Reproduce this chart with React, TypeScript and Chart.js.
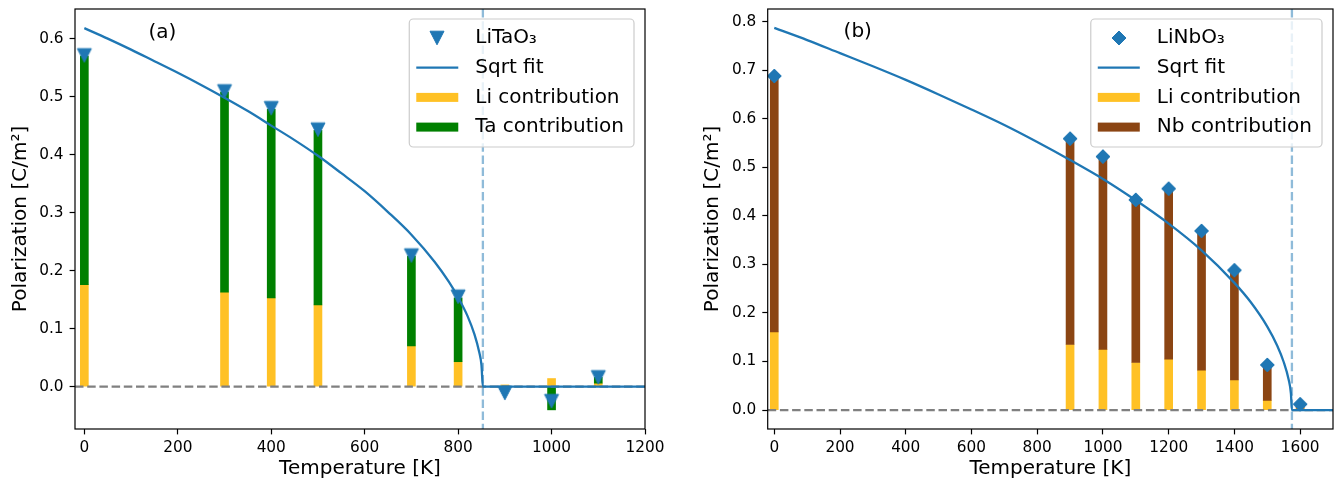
import React, { useEffect, useRef } from 'react';
import { Chart, registerables } from 'chart.js';

Chart.register(...registerables);

const FONT = 'DejaVu Sans';
const BLUE = '#1f77b4';
const LI_COLOR = '#ffc125';
const TA_COLOR = '#008000';
const NB_COLOR = '#8b4513';

// ---------- panel (a): LiTaO3 ----------
const tempsA = [0, 300, 400, 500, 700, 800, 900, 1000, 1100];
const totalA = [0.571, 0.509, 0.48, 0.443, 0.226, 0.155, -0.011, -0.025, 0.016];
const liA = [0.176, 0.163, 0.153, 0.141, 0.07, 0.043, 0.003, 0.014, 0.006];
const taA = [0.394, 0.345, 0.325, 0.301, 0.155, 0.11, -0.004, -0.04, 0.01];
const fitTempA = [0, 50, 100, 150, 200, 250, 300, 350, 400, 450, 500, 550, 600, 650, 700, 750, 780, 800, 820, 835, 845, 850, 853, 1200];
const fitPolA = [0.618, 0.6, 0.581, 0.561, 0.541, 0.52, 0.498, 0.475, 0.45, 0.425, 0.398, 0.368, 0.337, 0.301, 0.262, 0.215, 0.181, 0.154, 0.122, 0.09, 0.06, 0.037, 0, 0];
const tcA = 853;
const xTicksA = [0, 200, 400, 600, 800, 1000, 1200];
const yTicksA = [0, 0.1, 0.2, 0.3, 0.4, 0.5, 0.6];

// ---------- panel (b): LiNbO3 ----------
const tempsB = [0, 900, 1000, 1100, 1200, 1300, 1400, 1500, 1600];
const totalB = [0.688, 0.559, 0.522, 0.433, 0.456, 0.369, 0.288, 0.093, 0.012];
const liB = [0.161, 0.135, 0.125, 0.098, 0.105, 0.082, 0.062, 0.02, 0.004];
const nbB = [0.523, 0.42, 0.393, 0.332, 0.347, 0.284, 0.223, 0.07, 0.005];
const fitTempB = [0, 100, 200, 300, 400, 500, 600, 700, 800, 900, 1000, 1100, 1200, 1300, 1400, 1450, 1500, 1530, 1550, 1565, 1572, 1575, 1700];
const fitPolB = [0.787, 0.762, 0.735, 0.708, 0.68, 0.65, 0.619, 0.587, 0.552, 0.515, 0.476, 0.432, 0.384, 0.329, 0.262, 0.222, 0.172, 0.133, 0.099, 0.063, 0.034, 0, 0];
const tcB = 1575;
const xTicksB = [0, 200, 400, 600, 800, 1000, 1200, 1400, 1600];
const yTicksB = [0, 0.1, 0.2, 0.3, 0.4, 0.5, 0.6, 0.7, 0.8];

type Panel = {
  temps: number[];
  total: number[];
  li: number[];
  other: number[];
  fitT: number[];
  fitP: number[];
  tc: number;
  xRange: [number, number];
  yRange: [number, number];
  xTicks: number[];
  yTicks: number[];
  marker: 'tri' | 'diamond';
  seriesLabel: string;
  otherLabel: string;
  otherColor: string;
  panelLabel: string;
  panelLabelAt: [number, number];
  canvasW: number;
  yAxisW: number;
  rightPad: number;
  yTitlePad: number;
};

const panelA: Panel = {
  temps: tempsA, total: totalA, li: liA, other: taA,
  fitT: fitTempA, fitP: fitPolA, tc: tcA,
  xRange: [-20, 1200], yRange: [-0.073, 0.651],
  xTicks: xTicksA, yTicks: yTicksA, marker: 'tri',
  seriesLabel: 'LiTaO\u2083', otherLabel: 'Ta contribution', otherColor: TA_COLOR,
  panelLabel: '(a)', panelLabelAt: [167, 0.61],
  canvasW: 670, yAxisW: 75, rightPad: 25, yTitlePad: 9,
};

const panelB: Panel = {
  temps: tempsB, total: totalB, li: liB, other: nbB,
  fitT: fitTempB, fitP: fitPolB, tc: tcB,
  xRange: [-20, 1700], yRange: [-0.039, 0.826],
  xTicks: xTicksB, yTicks: yTicksB, marker: 'diamond',
  seriesLabel: 'LiNbO\u2083', otherLabel: 'Nb contribution', otherColor: NB_COLOR,
  panelLabel: '(b)', panelLabelAt: [254, 0.78],
  canvasW: 672, yAxisW: 97.7, rightPad: 5.3, yTitlePad: 30.5,
};

const H = 489;

function makeMarker(kind: 'tri' | 'diamond'): HTMLCanvasElement {
  const c = document.createElement('canvas');
  c.width = 18;
  c.height = 18;
  const g = c.getContext('2d')!;
  g.fillStyle = BLUE;
  g.strokeStyle = BLUE;
  g.lineWidth = 1;
  g.beginPath();
  if (kind === 'tri') {
    g.moveTo(2, 2.2);
    g.lineTo(16, 2.2);
    g.lineTo(9, 15.8);
  } else {
    g.moveTo(9, 2);
    g.lineTo(16, 9);
    g.lineTo(9, 16);
    g.lineTo(2, 9);
  }
  g.closePath();
  g.fill();
  g.stroke();
  return c;
}

type LegendItem = { label: string; kind: 'marker' | 'line' | 'bar'; color: string };

function buildChart(canvas: HTMLCanvasElement, p: Panel) {
  const markerImg = makeMarker(p.marker);
  const legendItems: LegendItem[] = [
    { label: p.seriesLabel, kind: 'marker', color: BLUE },
    { label: 'Sqrt fit', kind: 'line', color: BLUE },
    { label: 'Li contribution', kind: 'bar', color: LI_COLOR },
    { label: p.otherLabel, kind: 'bar', color: p.otherColor },
  ];

  const liBars = p.temps.map((t, i) => ({ x: t, y: [0, p.li[i]] }));
  const otherBars = p.temps.map((t, i) => ({
    x: t,
    y: p.other[i] >= 0 ? [p.li[i], p.li[i] + p.other[i]] : [0, p.other[i]],
  }));
  const points = p.temps.map((t, i) => ({ x: t, y: p.total[i] }));
  const fit = p.fitT.map((t, i) => ({ x: t, y: p.fitP[i] }));
  const zero = p.xRange.map((x) => ({ x, y: 0 }));

  const decoPlugin = {
    id: 'deco',
    beforeDatasetsDraw(chart: any) {
      const { ctx, chartArea } = chart;
      const x = chart.scales.x.getPixelForValue(p.tc);
      ctx.save();
      ctx.strokeStyle = 'rgba(31,119,180,0.5)';
      ctx.lineWidth = 2.3;
      ctx.setLineDash([8.5, 3.7]);
      ctx.beginPath();
      ctx.moveTo(x, chartArea.top);
      ctx.lineTo(x, chartArea.bottom);
      ctx.stroke();
      ctx.restore();
    },
    afterDatasetsDraw(chart: any) {
      const { ctx, chartArea } = chart;
      ctx.save();
      ctx.strokeStyle = '#000';
      ctx.lineWidth = 1.2;
      ctx.strokeRect(chartArea.left, chartArea.top, chartArea.right - chartArea.left, chartArea.bottom - chartArea.top);
      ctx.fillStyle = '#000';
      ctx.font = `20px "${FONT}"`;
      ctx.textAlign = 'center';
      ctx.textBaseline = 'middle';
      ctx.fillText(
        p.panelLabel,
        chart.scales.x.getPixelForValue(p.panelLabelAt[0]),
        chart.scales.y.getPixelForValue(p.panelLabelAt[1])
      );
      ctx.restore();
    },
    afterDraw(chart: any) {
      const { ctx, chartArea } = chart;
      ctx.save();
      ctx.font = `20px "${FONT}"`;
      const maxW = Math.max(...legendItems.map((it) => ctx.measureText(it.label).width));
      const w = 66 + maxW + 10;
      const h = 128;
      const right = chartArea.right - 11;
      const left = right - w;
      const top = chartArea.top + 10;
      const r = 4;
      ctx.beginPath();
      ctx.moveTo(left + r, top);
      ctx.lineTo(left + w - r, top);
      ctx.arcTo(left + w, top, left + w, top + r, r);
      ctx.lineTo(left + w, top + h - r);
      ctx.arcTo(left + w, top + h, left + w - r, top + h, r);
      ctx.lineTo(left + r, top + h);
      ctx.arcTo(left, top + h, left, top + h - r, r);
      ctx.lineTo(left, top + r);
      ctx.arcTo(left, top, left + r, top, r);
      ctx.closePath();
      ctx.fillStyle = 'rgba(255,255,255,0.8)';
      ctx.fill();
      ctx.strokeStyle = '#cccccc';
      ctx.lineWidth = 1.2;
      ctx.stroke();
      legendItems.forEach((it, i) => {
        const y = top + 19 + i * 29.7;
        const hx0 = left + 7;
        const hx1 = left + 49;
        if (it.kind === 'marker') {
          ctx.drawImage(markerImg, Math.round(left + 28 - 9), Math.round(y - 9));
        } else if (it.kind === 'line') {
          ctx.strokeStyle = it.color;
          ctx.lineWidth = 2.3;
          ctx.beginPath();
          ctx.moveTo(hx0, y);
          ctx.lineTo(hx1, y);
          ctx.stroke();
        } else {
          ctx.fillStyle = it.color;
          ctx.fillRect(hx0, y - 4.5, hx1 - hx0, 9);
        }
        ctx.fillStyle = '#000';
        ctx.textAlign = 'left';
        ctx.textBaseline = 'middle';
        ctx.fillText(it.label, left + 66, y);
      });
      ctx.restore();
    },
  };

  const tickFont = { family: FONT, size: 15.3 };
  const titleFont = { family: FONT, size: 20 };

  return new Chart(canvas, {
    type: 'bar',
    data: {
      datasets: [
        {
          type: 'line',
          label: p.seriesLabel,
          data: points,
          showLine: false,
          pointStyle: markerImg as any,
          pointRadius: 8,
          order: 0,
        } as any,
        {
          type: 'line',
          label: 'Sqrt fit',
          data: fit,
          borderColor: BLUE,
          borderWidth: 2.3,
          pointRadius: 0,
          cubicInterpolationMode: 'monotone',
          fill: false,
          order: 1,
        } as any,
        {
          type: 'line',
          label: 'zero',
          data: zero,
          borderColor: '#808080',
          borderWidth: 2.3,
          borderDash: [8.5, 3.7],
          pointRadius: 0,
          fill: false,
          order: 2,
        } as any,
        {
          type: 'bar',
          label: p.otherLabel,
          data: otherBars,
          backgroundColor: p.otherColor,
          borderWidth: 0,
          barThickness: 8,
          grouped: false,
          order: 3,
        } as any,
        {
          type: 'bar',
          label: 'Li contribution',
          data: liBars,
          backgroundColor: LI_COLOR,
          borderWidth: 0,
          barThickness: 8,
          grouped: false,
          order: 4,
        } as any,
      ],
    },
    options: {
      responsive: false,
      animation: false,
      events: [],
      layout: { padding: { left: 0, right: p.rightPad, top: 5, bottom: 0 } },
      plugins: {
        legend: { display: false },
        tooltip: { enabled: false },
      },
      scales: {
        x: {
          type: 'linear',
          min: p.xRange[0],
          max: p.xRange[1],
          offset: false,
          afterBuildTicks: (ax: any) => {
            ax.ticks = p.xTicks.map((v) => ({ value: v }));
          },
          afterFit: (ax: any) => {
            ax.height = 60;
            ax.paddingLeft = 0;
            ax.paddingRight = 0;
          },
          grid: {
            display: true,
            offset: false,
            drawOnChartArea: false,
            drawTicks: true,
            tickLength: 5.4,
            tickWidth: 1.2,
            tickColor: '#000',
            color: '#000',
          },
          border: { display: false },
          ticks: {
            font: tickFont,
            color: '#000',
            padding: 4,
            maxRotation: 0,
            autoSkip: false,
            callback: (v: any) => String(v),
          },
          title: {
            display: true,
            text: 'Temperature [K]',
            font: titleFont,
            color: '#000',
            padding: { top: 0, bottom: 8 },
          },
        },
        y: {
          type: 'linear',
          min: p.yRange[0],
          max: p.yRange[1],
          afterBuildTicks: (ax: any) => {
            ax.ticks = p.yTicks.map((v) => ({ value: v }));
          },
          afterFit: (ax: any) => {
            ax.width = p.yAxisW;
            ax.paddingTop = 0;
            ax.paddingBottom = 0;
          },
          grid: {
            display: true,
            drawOnChartArea: false,
            drawTicks: true,
            tickLength: 5.4,
            tickWidth: 1.2,
            tickColor: '#000',
            color: '#000',
          },
          border: { display: false },
          ticks: {
            font: tickFont,
            color: '#000',
            padding: 6,
            autoSkip: false,
            callback: (v: any) => Number(v).toFixed(1),
          },
          title: {
            display: true,
            text: 'Polarization [C/m\u00b2]',
            font: titleFont,
            color: '#000',
            padding: { top: p.yTitlePad, bottom: 0 },
          },
        },
      },
    } as any,
    plugins: [decoPlugin as any],
  });
}

function ChartPanel({ panel, left }: { panel: Panel; left: number }) {
  const ref = useRef<HTMLCanvasElement>(null);
  useEffect(() => {
    const chart = buildChart(ref.current!, panel);
    return () => chart.destroy();
  }, [panel]);
  return (
    <canvas
      ref={ref}
      width={panel.canvasW}
      height={H}
      style={{ position: 'absolute', left, top: 0, width: panel.canvasW, height: H }}
    />
  );
}

export default function App() {
  return (
    <div
      style={{
        position: 'absolute',
        left: 0,
        top: 0,
        width: 1342,
        height: H,
        overflow: 'hidden',
        background: '#fff',
      }}
    >
      <ChartPanel panel={panelA} left={0} />
      <ChartPanel panel={panelB} left={670} />
    </div>
  );
}
